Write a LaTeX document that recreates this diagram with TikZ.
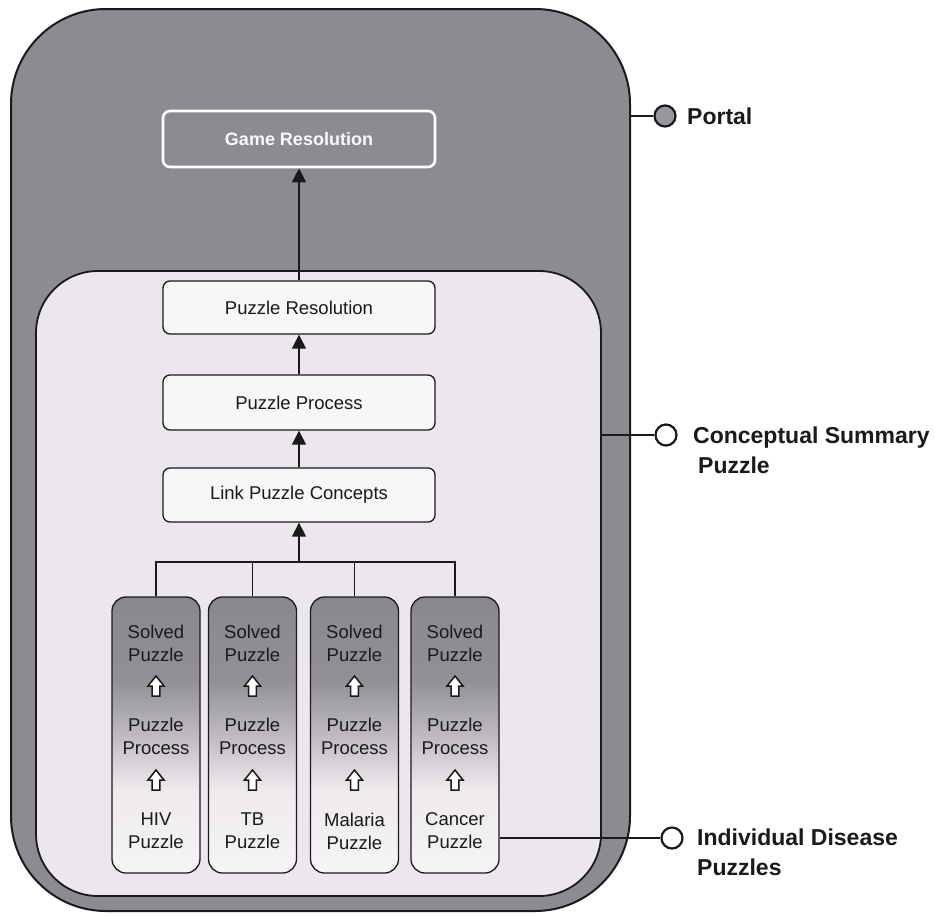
\documentclass[tikz,border=0pt]{standalone}
\usepackage{fontspec}
\setmainfont{Liberation Sans}
\usetikzlibrary{arrows.meta,calc}
\definecolor{outergray}{HTML}{8D8B92}
\definecolor{innerpink}{HTML}{ECE7ED}
\definecolor{boxfill}{HTML}{F7F6F8}
\definecolor{inkc}{HTML}{1A1A1A}
\definecolor{pzlight}{HTML}{F6F4F6}
\definecolor{pzlighttwo}{HTML}{EEEAEE}
\definecolor{pzmid}{HTML}{BEBAC0}
\definecolor{pzdark}{HTML}{928F96}
\definecolor{pzdarktwo}{HTML}{8A888F}
\pgfdeclareverticalshading{pzshade}{100bp}{color(0bp)=(pzlight); color(25bp)=(pzlight); color(40bp)=(pzlighttwo); color(50bp)=(pzmid); color(60bp)=(pzdark); color(75bp)=(pzdarktwo); color(100bp)=(pzdarktwo)}
\tikzset{
  boxstyle/.style={draw=inkc, line width=1.3pt, fill=boxfill, rounded corners=7pt,
    minimum width=272pt, font=\fontsize{18.5}{23}\selectfont, text=inkc, inner sep=0pt},
  gamebox/.style={draw=white, line width=2.6pt, fill=outergray, rounded corners=7pt,
    minimum width=272pt, minimum height=56pt, font=\bfseries\fontsize{18}{22}\selectfont, text=white!95!gray},
  pzbox/.style={draw=inkc, line width=1.3pt, rounded corners=14pt, shading=pzshade,
    minimum width=88pt, minimum height=276pt, inner sep=0pt},
  pztext/.style={font=\fontsize{18.5}{23}\selectfont, text=inkc, align=center, inner sep=0pt},
  conn/.style={draw=inkc, line width=1.4pt},
  arr/.style={conn, -{Triangle[width=14pt,length=14pt]}},
  labtext/.style={font=\bfseries\fontsize{23}{30}\selectfont, text=inkc, align=left, anchor=west, inner sep=0pt},
  labcirc/.style={circle, draw=inkc, line width=2.2pt, minimum size=21pt, inner sep=0pt, fill=white},
  labline/.style={draw=inkc, line width=2pt},
  hollow/.pic={\draw[inkc, line width=1.5pt, fill=white, line join=miter]
     (-3.8,10) -- (-3.8,0) -- (-8,0) -- (0,-10) -- (8,0) -- (3.8,0) -- (3.8,10) -- cycle;}
}
\begin{document}
\begin{tikzpicture}[x=1pt,y=-1pt]
\useasboundingbox[fill=white] (0,0) rectangle (935,916);
% outer portal
\node[draw=inkc, line width=2pt, fill=outergray, rounded corners=95pt,
  minimum width=619pt, minimum height=902pt] (outer) at (320.5,460) {};
% inner conceptual
\node[draw=inkc, line width=1.8pt, fill=innerpink, rounded corners=62pt,
  minimum width=565pt, minimum height=625pt] (inner) at (318.5,583.5) {};
% top boxes
\node[gamebox] (gres) at (299,139) {Game Resolution};
\node[boxstyle, minimum height=53pt] (pres) at (299,307.5) {Puzzle Resolution};
\node[boxstyle, minimum height=55pt] (pproc) at (299,402.5) {Puzzle Process};
\node[boxstyle, minimum height=54pt] (link) at (299,495) {Link Puzzle Concepts};
\draw[arr] (pres.north) -- (gres.south);
\draw[arr] (pproc.north) -- (pres.south);
\draw[arr] (link.north) -- (pproc.south);
% puzzle columns
\foreach \i/\x/\d in {1/156/HIV, 2/252.5/TB, 3/354.5/Malaria, 4/455/Cancer}{
  \node[pzbox] (p\i) at (\x,735) {};
  \node[pztext] (s\i) at (\x,643) {Solved\\Puzzle};
  \node[pztext] (m\i) at (\x,736.5) {Puzzle\\Process};
  \node[pztext] (d\i) at (\x,831) {\d\\Puzzle};
  \pic at (\x,686) {hollow};
  \pic at (\x,780) {hollow};
}
\coordinate (bus) at (299,562);
\draw[conn] (p1.north) |- (bus) -| (p4.north);
\draw[conn] (p2.north) -- (p2.north |- bus);
\draw[conn] (p3.north) -- (p3.north |- bus);
\draw[arr] (bus) -- (link.south);
% labels
\node[labcirc, fill=outergray!90!white] (cport) at (665,116) {};
\draw[labline] (outer.east |- cport) -- (cport.west);
\node[labtext] (lport) at (687,116) {Portal};
\node[labcirc] (cconc) at (666,435) {};
\draw[labline] (inner.east |- cconc) -- (cconc.west);
\node[labtext] (lconc) at (693,450) {Conceptual Summary\\\hspace{5pt}Puzzle};
\node[labcirc] (cind) at (672,838) {};
\draw[labline] (p4.east |- cind) -- (cind.west);
\node[labtext] (lind) at (697,852.5) {Individual Disease\\Puzzles};
\end{tikzpicture}
\end{document}
